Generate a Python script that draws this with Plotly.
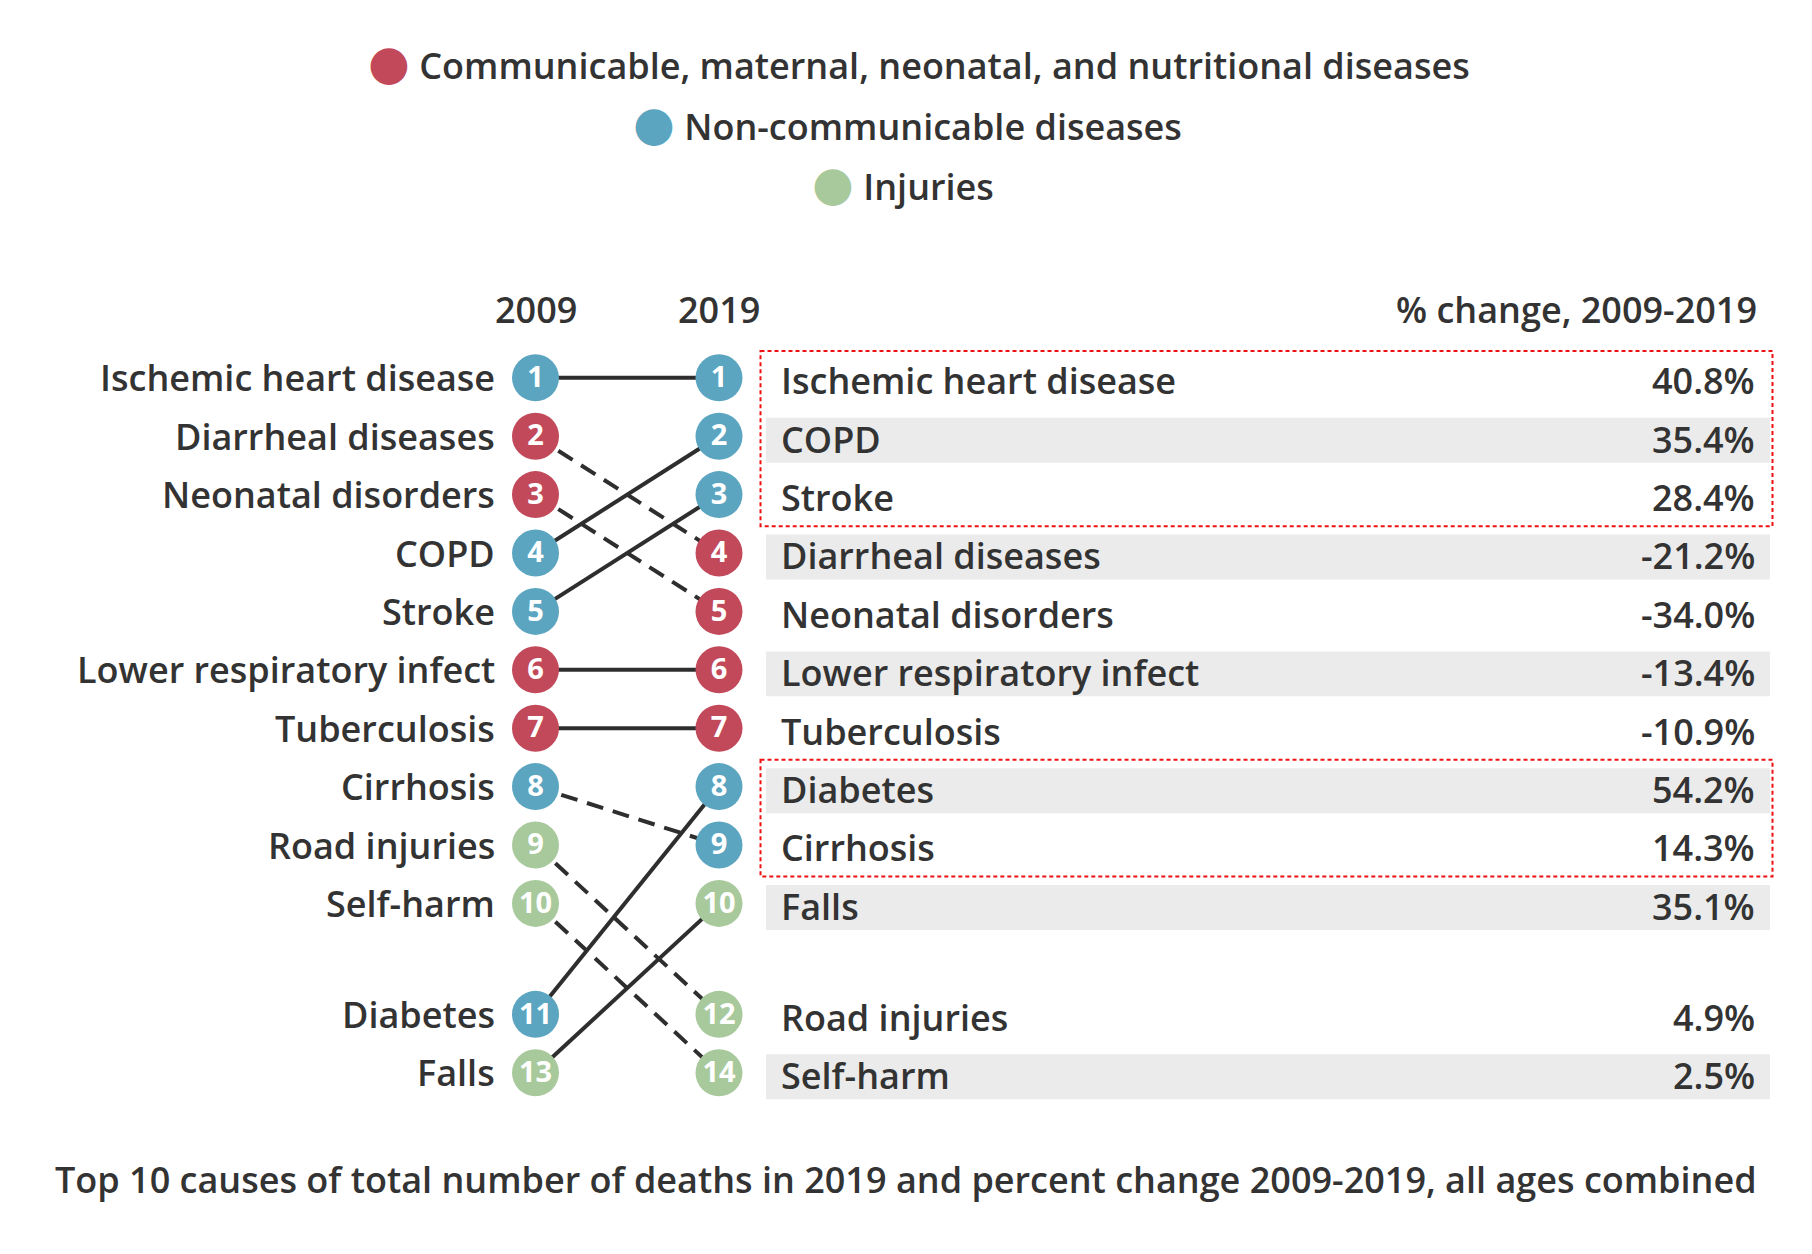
import plotly.graph_objects as go

# ---------------- data ----------------
causes = ["Ischemic heart disease", "COPD", "Stroke", "Diarrheal diseases",
          "Neonatal disorders", "Lower respiratory infect", "Tuberculosis",
          "Diabetes", "Cirrhosis", "Falls", "Road injuries", "Self-harm"]
group = ["NCD", "NCD", "NCD", "CMNN", "CMNN", "CMNN", "CMNN",
         "NCD", "NCD", "INJ", "INJ", "INJ"]
rank_2009 = [1, 4, 5, 2, 3, 6, 7, 11, 8, 13, 9, 10]
rank_2019 = [1, 2, 3, 4, 5, 6, 7, 8, 9, 10, 12, 14]
pct_change = [40.8, 35.4, 28.4, -21.2, -34.0, -13.4, -10.9, 54.2, 14.3, 35.1, 4.9, 2.5]

group_keys = ["CMNN", "NCD", "INJ"]
group_names = ["Communicable, maternal, neonatal, and nutritional diseases",
               "Non-communicable diseases", "Injuries"]
year_labels = ["2009", "2019"]
change_header = "% change, 2009-2019"
caption = "Top 10 causes of total number of deaths in 2019 and percent change 2009-2019, all ages combined"
highlight_blocks = [(0, 2), (7, 8)]   # boxed table rows (first, last)

# ---------------- style / layout ----------------
W, H = 1812, 1254
OFF = 8          # page body margin
colors = {"CMNN": "#C2495A", "NCD": "#5BA5C0", "INJ": "#A8C99C"}
TXT = "#333333"
FONT = "Open Sans"
FS = 36
X09, X19 = 535.5, 719.0
ROW0, ROWH = 377.8, 58.4
GAP = 0.9
LABEL_R = 497
TAB_L, TAB_R = 779, 1757
BAND_L, BAND_R = 766, 1770
BOX_L, BOX_R = 760.5, 1772.5
TOFF = 0.05
NUM_OFF = 0.035
LEGEND_X = [0.503, 0.4965, 0.494]
LEGEND_Y = [62, 122.5, 183]


def slot(i):
    return i + (GAP if i >= 10 else 0)


def paper_y(px):
    return 1 - (px - OFF) / H


n = len(causes)
order09 = sorted(rank_2009)
y09 = [slot(order09.index(r)) for r in rank_2009]
order19 = sorted(rank_2019)
y19 = [slot(order19.index(r)) for r in rank_2019]

fig = go.Figure()

# connecting lines
for dash_kind in ["solid", "dash"]:
    xs, ys = [], []
    for i in range(n):
        fell = rank_2019[i] > rank_2009[i]
        if (dash_kind == "dash") == fell:
            xs += [X09, X19, None]
            ys += [y09[i], y19[i], None]
    fig.add_trace(go.Scatter(
        x=xs, y=ys, mode="lines", hoverinfo="skip", showlegend=False,
        line=dict(color="#2E2E2E", width=4,
                  dash="solid" if dash_kind == "solid" else "17px,10px")))

# rank circles + numbers
for xcol, ys, ranks in [(X09, y09, rank_2009), (X19, y19, rank_2019)]:
    fig.add_trace(go.Scatter(
        x=[xcol] * n, y=ys, mode="markers",
        marker=dict(size=47, color=[colors[g] for g in group], line=dict(width=0)),
        hovertext=causes, hoverinfo="text", showlegend=False))
    fig.add_trace(go.Scatter(
        x=[xcol] * n, y=[v + NUM_OFF for v in ys], mode="text",
        text=[str(r) for r in ranks], textposition="middle center",
        textfont=dict(family=FONT, size=29, color="white", weight=700),
        hoverinfo="skip", showlegend=False))

annotations = []
shapes = []

# left labels (2009 order)
for i in range(n):
    annotations.append(dict(x=LABEL_R, y=y09[i], xref="x", yref="y", text=causes[i],
                            xanchor="right", yanchor="middle", showarrow=False))

# table
for i in range(n):
    yy = y19[i]
    if i % 2 == 1:
        shapes.append(dict(type="rect", xref="x", yref="y", x0=BAND_L, x1=BAND_R,
                           y0=yy - 0.385 + 0.07, y1=yy + 0.385 + 0.07,
                           fillcolor="#EBEBEB", line=dict(width=0), layer="below"))
    annotations.append(dict(x=TAB_L, y=yy + TOFF, xref="x", yref="y", text=causes[i],
                            xanchor="left", yanchor="middle", showarrow=False))
    annotations.append(dict(x=TAB_R, y=yy + TOFF, xref="x", yref="y",
                            text=f"{pct_change[i]:.1f}%",
                            xanchor="right", yanchor="middle", showarrow=False))

for a, b in highlight_blocks:
    shapes.append(dict(type="rect", xref="x", yref="y", x0=BOX_L, x1=BOX_R,
                       y0=y19[a] - 0.5 + 0.04, y1=y19[b] + 0.5 + 0.04,
                       line=dict(color="#EE1111", width=2, dash="4px,3px"),
                       fillcolor="rgba(0,0,0,0)", layer="above"))

# headers
hdr_y = paper_y(310)
annotations.append(dict(x=X09, y=hdr_y, xref="x", yref="paper", text=year_labels[0],
                        xanchor="center", yanchor="middle", showarrow=False))
annotations.append(dict(x=X19, y=hdr_y, xref="x", yref="paper", text=year_labels[1],
                        xanchor="center", yanchor="middle", showarrow=False))
annotations.append(dict(x=1759, y=hdr_y, xref="x", yref="paper", text=change_header,
                        xanchor="right", yanchor="middle", showarrow=False))

# legend rows
for k in range(3):
    c = colors[group_keys[k]]
    annotations.append(dict(
        x=LEGEND_X[k], y=paper_y(LEGEND_Y[k]), xref="paper", yref="paper",
        text=f"<span style='color:{c};font-size:48px;font-family:DejaVu Sans'>●</span> {group_names[k]}",
        xanchor="center", yanchor="middle", showarrow=False))

# caption
annotations.append(dict(x=0.4958, y=paper_y(1179), xref="paper", yref="paper", text=caption,
                        xanchor="center", yanchor="middle", showarrow=False))

fig.update_layout(
    width=W, height=H, margin=dict(l=0, r=0, t=0, b=0),
    paper_bgcolor="white", plot_bgcolor="white",
    font=dict(family=FONT, size=FS, color=TXT, weight=600),
    xaxis=dict(range=[OFF, W + OFF], visible=False, fixedrange=True),
    yaxis=dict(range=[(H + OFF - ROW0) / ROWH, (OFF - ROW0) / ROWH],
               visible=False, fixedrange=True),
    annotations=annotations, shapes=shapes, showlegend=False,
)

fig.write_html("out.html")
